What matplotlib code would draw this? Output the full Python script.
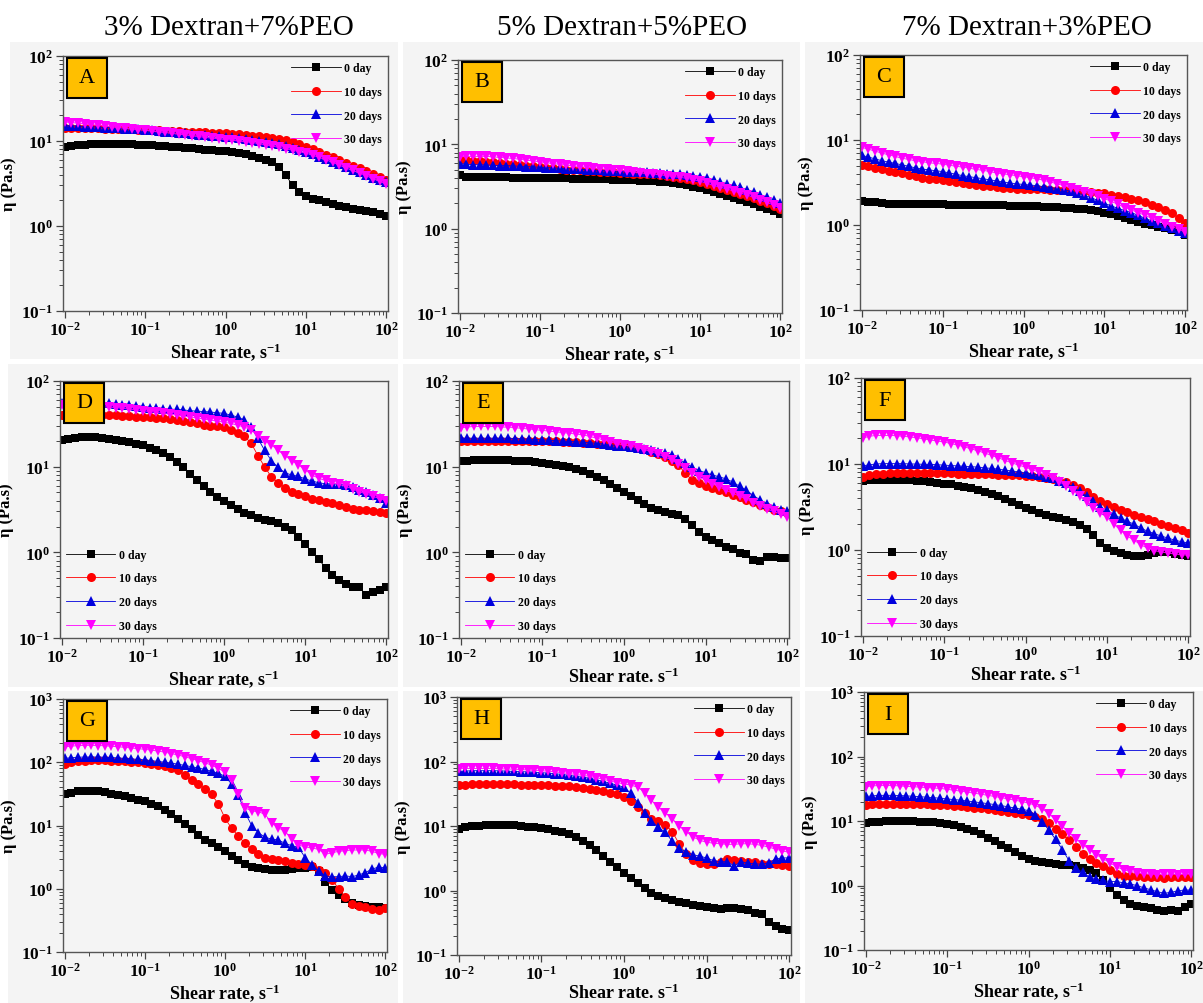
import math
import matplotlib
matplotlib.use("Agg")
import matplotlib.pyplot as plt
from matplotlib.patches import Rectangle
from matplotlib.ticker import FuncFormatter, LogLocator

plt.rcParams['font.family'] = ['Liberation Serif', 'DejaVu Serif']
plt.rcParams['mathtext.fontset'] = 'custom'
plt.rcParams['mathtext.rm'] = 'Liberation Serif:bold'
plt.rcParams['mathtext.bf'] = 'Liberation Serif:bold'
plt.rcParams['mathtext.it'] = 'Liberation Serif:bold:italic'

# shear rate grid, 12 points per decade (s^-1)
SHEAR_RATE = [0.01, 0.0121, 0.0147, 0.0178, 0.0215, 0.0261, 0.0316, 0.0383, 0.0464, 0.0562, 0.0681, 0.0825,
              0.1, 0.121, 0.147, 0.178, 0.215, 0.261, 0.316, 0.383, 0.464, 0.562, 0.681, 0.825,
              1.0, 1.21, 1.47, 1.78, 2.15, 2.61, 3.16, 3.83, 4.64, 5.62, 6.81, 8.25,
              10.0, 12.1, 14.7, 17.8, 21.5, 26.1, 31.6, 38.3, 46.4, 56.2, 68.1, 82.5, 100.0]

DAY_LABELS = ['0 day', '10 days', '20 days', '30 days']
COLUMN_TITLES = ['3% Dextran+7%PEO', '5% Dextran+5%PEO', '7% Dextran+3%PEO']

# ---- panel A ----
A_0 = [8.6, 8.8, 8.9, 9.0, 9.1, 9.1, 9.2, 9.2, 9.2, 9.1, 9.1, 9.0,
       9.0, 8.9, 8.8, 8.7, 8.6, 8.5, 8.3, 8.2, 8.1, 7.9, 7.8, 7.7,
       7.6, 7.4, 7.2, 7.0, 6.7, 6.3, 5.9, 5.6, 4.9, 4.0, 3.0, 2.5,
       2.25, 2.1, 2.0, 1.9, 1.8, 1.72, 1.66, 1.6, 1.55, 1.5, 1.45, 1.38, 1.3]
A_10 = [14.3, 14.3, 14.3, 14.2, 14.2, 14.1, 14.0, 14.0, 13.9, 13.8, 13.7, 13.6,
        13.5, 13.4, 13.3, 13.2, 13.1, 13.0, 12.9, 12.8, 12.7, 12.6, 12.5, 12.4,
        12.3, 12.2, 12.0, 11.8, 11.6, 11.4, 11.2, 10.9, 10.6, 10.2, 9.7, 9.2,
        8.6, 8.0, 7.4, 6.9, 6.4, 5.9, 5.5, 5.1, 4.8, 4.4, 4.1, 3.8, 3.5]
A_20 = [15.2, 15.1, 15.0, 14.8, 14.7, 14.6, 14.4, 14.3, 14.1, 14.0, 13.8, 13.7,
        13.5, 13.3, 13.1, 12.9, 12.7, 12.5, 12.3, 12.1, 11.9, 11.7, 11.5, 11.3,
        11.2, 11.0, 10.8, 10.6, 10.4, 10.1, 9.8, 9.5, 9.1, 8.7, 8.3, 7.9,
        7.5, 7.0, 6.5, 6.1, 5.7, 5.3, 4.9, 4.6, 4.3, 4.0, 3.7, 3.5, 3.25]
A_30 = [16.8, 16.5, 16.2, 15.9, 15.6, 15.3, 15.0, 14.7, 14.4, 14.1, 13.8, 13.6,
        13.4, 13.1, 12.8, 12.6, 12.3, 12.0, 11.8, 11.5, 11.3, 11.0, 10.8, 10.6,
        10.4, 10.2, 10.0, 9.8, 9.6, 9.3, 9.0, 8.7, 8.4, 8.1, 7.8, 7.5,
        7.2, 6.8, 6.4, 6.0, 5.6, 5.2, 4.8, 4.5, 4.2, 3.9, 3.6, 3.35, 3.1]

# ---- panel B ----
B_0 = [4.3, 4.15, 4.1, 4.1, 4.1, 4.05, 4.05, 4.05, 4.0, 4.0, 4.0, 4.0,
       4.0, 4.0, 3.95, 3.95, 3.95, 3.9, 3.9, 3.9, 3.85, 3.85, 3.85, 3.8,
       3.8, 3.75, 3.75, 3.7, 3.7, 3.65, 3.6, 3.55, 3.45, 3.35, 3.25, 3.1,
       3.0, 2.85, 2.7, 2.6, 2.45, 2.3, 2.2, 2.05, 1.95, 1.8, 1.7, 1.6, 1.5]
B_10 = [6.6, 6.5, 6.4, 6.3, 6.2, 6.1, 6.0, 5.9, 5.8, 5.7, 5.6, 5.5,
        5.4, 5.3, 5.2, 5.1, 5.0, 4.95, 4.9, 4.85, 4.8, 4.75, 4.7, 4.65,
        4.6, 4.55, 4.5, 4.5, 4.45, 4.4, 4.3, 4.2, 4.1, 4.0, 3.9, 3.75,
        3.6, 3.4, 3.2, 3.05, 2.9, 2.75, 2.6, 2.45, 2.3, 2.15, 2.0, 1.85, 1.7]
B_20 = [5.9, 5.8, 5.75, 5.7, 5.7, 5.65, 5.6, 5.6, 5.55, 5.5, 5.45, 5.4,
        5.35, 5.3, 5.25, 5.2, 5.15, 5.1, 5.05, 5.0, 4.95, 4.9, 4.85, 4.8,
        4.8, 4.75, 4.7, 4.7, 4.65, 4.6, 4.55, 4.5, 4.45, 4.4, 4.3, 4.2,
        4.1, 3.95, 3.8, 3.6, 3.4, 3.25, 3.1, 2.9, 2.7, 2.5, 2.35, 2.2, 2.0]
B_30 = [7.1, 7.2, 7.2, 7.2, 7.2, 7.1, 7.0, 6.9, 6.8, 6.65, 6.5, 6.35,
        6.2, 6.05, 5.9, 5.8, 5.65, 5.55, 5.45, 5.35, 5.25, 5.15, 5.05, 4.95,
        4.9, 4.8, 4.7, 4.6, 4.5, 4.45, 4.35, 4.25, 4.15, 4.05, 3.95, 3.8,
        3.65, 3.45, 3.25, 3.1, 2.95, 2.8, 2.65, 2.5, 2.35, 2.2, 2.05, 1.9, 1.75]

# ---- panel C ----
C_0 = [1.92, 1.88, 1.84, 1.8, 1.78, 1.77, 1.76, 1.76, 1.75, 1.75, 1.75, 1.75,
       1.75, 1.74, 1.74, 1.73, 1.73, 1.72, 1.72, 1.71, 1.7, 1.7, 1.69, 1.68,
       1.68, 1.67, 1.66, 1.65, 1.64, 1.62, 1.6, 1.58, 1.56, 1.54, 1.5, 1.46,
       1.4, 1.33, 1.26, 1.2, 1.14, 1.08, 1.03, 0.99, 0.96, 0.92, 0.87, 0.82, 0.76]
C_10 = [5.1, 4.9, 4.7, 4.5, 4.35, 4.2, 4.05, 3.9, 3.75, 3.6, 3.5, 3.45,
        3.4, 3.3, 3.2, 3.1, 3.0, 2.95, 2.9, 2.85, 2.8, 2.75, 2.7, 2.68,
        2.65, 2.64, 2.63, 2.62, 2.61, 2.6, 2.58, 2.55, 2.52, 2.48, 2.44, 2.4,
        2.35, 2.28, 2.2, 2.12, 2.04, 1.95, 1.85, 1.74, 1.62, 1.5, 1.37, 1.22, 1.07]
C_20 = [6.6, 6.3, 6.0, 5.7, 5.5, 5.3, 5.1, 4.9, 4.7, 4.55, 4.45, 4.35,
        4.25, 4.1, 3.95, 3.8, 3.7, 3.6, 3.5, 3.4, 3.3, 3.2, 3.12, 3.05,
        3.0, 2.95, 2.9, 2.82, 2.75, 2.68, 2.6, 2.5, 2.38, 2.25, 2.1, 1.95,
        1.8, 1.68, 1.57, 1.48, 1.4, 1.3, 1.2, 1.12, 1.05, 0.98, 0.91, 0.85, 0.8]
C_30 = [8.2, 7.8, 7.4, 7.0, 6.7, 6.4, 6.1, 5.9, 5.7, 5.55, 5.4, 5.3,
        5.2, 5.05, 4.9, 4.8, 4.65, 4.5, 4.4, 4.25, 4.1, 4.0, 3.9, 3.8,
        3.7, 3.6, 3.5, 3.35, 3.2, 3.05, 2.9, 2.75, 2.6, 2.45, 2.3, 2.2,
        2.05, 1.9, 1.75, 1.6, 1.5, 1.4, 1.3, 1.2, 1.12, 1.04, 0.96, 0.89, 0.82]

# ---- panel D ----
D_0 = [20.5, 21.0, 21.6, 22.0, 22.0, 22.0, 21.7, 21.3, 20.6, 20.0, 19.2, 18.5,
       17.7, 16.7, 15.5, 14.3, 12.8, 11.3, 9.8, 8.3, 7.0, 5.9, 5.0, 4.4,
       4.0, 3.6, 3.2, 2.9, 2.7, 2.55, 2.4, 2.3, 2.2, 2.0, 1.8, 1.5,
       1.25, 1.0, 0.83, 0.66, 0.55, 0.48, 0.43, 0.39, 0.39, 0.32, 0.34, 0.36, 0.39]
D_10 = [40, 40, 40, 40.5, 40.5, 40.5, 40.5, 40, 40, 39.5, 39, 38.5,
        38, 37.5, 37, 36.5, 36, 35, 34, 33, 32, 31, 30, 29.5,
        29, 27, 25, 22.5, 19, 13.5, 10, 7.6, 6.5, 5.7, 5.1, 4.8,
        4.5, 4.25, 4.05, 3.9, 3.75, 3.55, 3.35, 3.2, 3.15, 3.1, 3.05, 2.95, 2.85]
D_20 = [56, 57, 57, 57, 56.5, 56, 55.5, 55, 54, 53, 52, 51,
        50, 49, 48, 47.5, 47, 46.5, 46, 45, 44.5, 44, 43.5, 42.5,
        42, 40, 38, 35, 29, 21.5, 15.5, 11.8, 9.8, 8.5, 8.0, 7.7,
        7.2, 6.8, 6.5, 6.3, 6.3, 6.2, 6.1, 5.8, 5.4, 5.1, 4.7, 4.3, 3.8]
D_30 = [52, 52, 52, 51.5, 51, 50.5, 50, 49.5, 49, 48, 47, 46,
        45, 44, 43, 42, 41, 40, 39, 38, 37, 36, 35, 34,
        33, 32, 30.5, 29, 27, 23, 20, 18, 15.5, 13.5, 11.8, 10.5,
        9.2, 8.0, 7.3, 6.9, 6.5, 6.2, 5.9, 5.5, 5.1, 4.8, 4.5, 4.25, 4.0]

# ---- panel E ----
E_0 = [11.7, 11.8, 11.9, 12.0, 12.0, 12.0, 12.0, 11.9, 11.8, 11.6, 11.5, 11.3,
       11.0, 10.8, 10.5, 10.2, 9.8, 9.3, 8.8, 8.3, 7.6, 7.0, 6.3, 5.7,
       5.1, 4.6, 4.1, 3.7, 3.3, 3.1, 2.95, 2.8, 2.7, 2.45, 2.1, 1.75,
       1.5, 1.4, 1.27, 1.15, 1.08, 0.98, 0.96, 0.81, 0.80, 0.88, 0.89, 0.86, 0.85]
E_10 = [20, 20, 20, 20, 20, 20, 20, 20, 20, 20, 20, 20,
        20, 20, 19.8, 19.6, 19.4, 19.2, 19.0, 18.8, 18.6, 18.4, 18.2, 18.0,
        17.7, 17.3, 16.8, 16.0, 15.0, 14.0, 13.0, 11.8, 10.4, 8.4, 7.0, 6.5,
        6.0, 5.6, 5.3, 5.0, 4.7, 4.4, 4.1, 3.85, 3.6, 3.35, 3.15, 3.0, 2.85]
E_20 = [21.5, 21.5, 21.5, 21.5, 21.5, 21.5, 21.5, 21.5, 21.3, 21.1, 20.9, 20.7,
        20.5, 20.3, 20.1, 19.9, 19.7, 19.5, 19.3, 19.0, 18.7, 18.4, 18.0, 17.6,
        17.2, 16.8, 16.4, 16.0, 15.5, 15.0, 14.4, 13.6, 12.4, 11.0, 9.9, 9.0,
        8.5, 8.0, 7.6, 7.2, 6.6, 5.9, 5.3, 4.6, 4.1, 3.7, 3.35, 3.1, 3.0]
E_30 = [28.5, 29, 29.5, 29.5, 29.5, 29.5, 29, 29, 28.5, 28, 27.5, 27,
        26.5, 26, 25.5, 25, 24.5, 24, 23.5, 22.5, 21.5, 20.5, 19.5, 18.5,
        18, 17.3, 16.6, 15.8, 15, 14, 13, 12, 10.8, 9.6, 8.5, 7.6,
        6.9, 6.3, 5.8, 5.3, 4.9, 4.5, 4.2, 3.8, 3.5, 3.2, 3.0, 2.8, 2.6]

# ---- panel F ----
F_0 = [6.4, 6.6, 6.6, 6.6, 6.6, 6.6, 6.6, 6.5, 6.4, 6.3, 6.2, 6.0,
       5.9, 5.8, 5.6, 5.45, 5.2, 5.0, 4.75, 4.45, 4.2, 3.95, 3.6, 3.3,
       3.1, 2.9, 2.7, 2.55, 2.45, 2.35, 2.22, 2.1, 1.95, 1.75, 1.5, 1.2,
       1.06, 0.97, 0.92, 0.88, 0.86, 0.86, 0.87, 0.93, 0.95, 0.94, 0.91, 0.88, 0.86]
F_10 = [7.1, 7.4, 7.6, 7.7, 7.8, 7.8, 7.8, 7.8, 7.8, 7.8, 7.8, 7.8,
        7.8, 7.8, 7.7, 7.7, 7.7, 7.7, 7.6, 7.6, 7.5, 7.5, 7.4, 7.4,
        7.3, 7.2, 7.1, 6.9, 6.7, 6.4, 6.15, 5.7, 5.2, 4.7, 4.1, 3.7,
        3.45, 3.2, 2.95, 2.75, 2.55, 2.4, 2.3, 2.15, 2.0, 1.92, 1.82, 1.72, 1.58]
F_20 = [9.5, 9.8, 10.0, 10.1, 10.1, 10.1, 10.1, 10.0, 10.0, 9.9, 9.9, 9.8,
        9.7, 9.6, 9.5, 9.4, 9.3, 9.2, 9.0, 8.9, 8.7, 8.5, 8.3, 8.1,
        7.9, 7.7, 7.4, 7.1, 6.8, 6.4, 6.0, 5.4, 4.8, 4.2, 3.7, 3.2,
        2.9, 2.6, 2.35, 2.15, 2.0, 1.8, 1.65, 1.55, 1.45, 1.38, 1.3, 1.25, 1.2]
F_30 = [20, 21, 21.5, 21.5, 21.5, 21.3, 21, 20.6, 20.2, 19.6, 19, 18.5,
        18, 17.3, 16.6, 15.8, 15, 14.2, 13.4, 12.6, 11.8, 11, 10.3, 9.7,
        9.2, 8.6, 8.0, 7.4, 6.8, 6.2, 5.6, 4.9, 4.2, 3.6, 3.1, 2.7,
        2.4, 2.0, 1.7, 1.45, 1.3, 1.15, 1.05, 0.98, 0.95, 0.92, 0.9, 0.88, 0.87]

# ---- panel G ----
G_0 = [31, 33, 34.5, 35, 35, 34.5, 33.5, 32, 30.5, 29, 27, 25.5,
       24, 22, 20, 17.5, 15, 12.5, 10.5, 8.7, 7.2, 6.0, 5.2, 4.5,
       3.9, 3.3, 2.8, 2.45, 2.2, 2.1, 2.05, 2.0, 2.0, 2.0, 2.05, 2.1,
       2.15, 2.2, 1.9, 1.3, 0.95, 0.8, 0.68, 0.6, 0.56, 0.54, 0.52, 0.51, 0.5]
G_10 = [95, 100, 104, 106, 107, 107, 107, 106, 105, 104, 102, 100,
        98, 95, 92, 88, 82, 75, 62, 52, 45, 38, 31, 22,
        13, 9.0, 6.8, 5.2, 4.2, 3.5, 3.1, 2.95, 2.8, 2.7, 2.6, 2.5,
        2.4, 2.3, 2.0, 1.75, 1.4, 1.0, 0.74, 0.57, 0.53, 0.52, 0.47, 0.46, 0.49]
G_20 = [115, 118, 120, 121, 121, 121, 120, 119, 117, 115, 113, 111,
        109, 106, 103, 100, 97, 93, 89, 85, 81, 77, 72, 67,
        60, 45, 30, 16, 10, 7.7, 6.5, 6.1, 5.9, 5.2, 4.8, 4.5,
        3.1, 2.4, 1.9, 1.6, 1.55, 1.55, 1.6, 1.55, 1.65, 1.8, 2.05, 2.2, 2.15]
G_30 = [175, 180, 183, 185, 185, 184, 182, 179, 176, 172, 168, 164,
        160, 155, 150, 144, 137, 130, 122, 114, 106, 98, 90, 80,
        70, 52, 32, 19, 17, 16.5, 15, 11, 9.2, 8.0, 6.2, 4.9,
        4.6, 4.4, 4.2, 3.5, 3.7, 3.9, 4.0, 4.1, 4.1, 4.1, 3.9, 3.6, 3.5]

# ---- panel H ----
H_0 = [8.9, 9.5, 9.9, 10.1, 10.3, 10.4, 10.4, 10.3, 10.2, 10.0, 9.8, 9.6,
       9.3, 8.9, 8.5, 8.0, 7.4, 6.7, 5.9, 5.0, 4.2, 3.4, 2.8, 2.3,
       1.9, 1.55, 1.3, 1.1, 0.93, 0.82, 0.76, 0.71, 0.67, 0.63, 0.6, 0.57,
       0.55, 0.53, 0.52, 0.53, 0.53, 0.52, 0.49, 0.45, 0.43, 0.33, 0.28, 0.25, 0.24]
H_10 = [43, 43.5, 44, 44, 44, 44, 44, 44, 44, 43.5, 43.5, 43,
        43, 42.5, 42, 41.5, 41, 40, 39, 38, 36.5, 35, 33, 31,
        28, 24, 20, 16, 13, 12, 10.5, 8.2, 5.3, 3.7, 3.0, 2.7,
        2.55, 2.55, 2.8, 3.1, 3.0, 2.9, 2.8, 2.75, 2.6, 2.55, 2.55, 2.5, 2.4]
H_20 = [70, 71, 72, 72, 72, 72, 71.5, 71, 70, 69.5, 69, 68,
        67, 66, 64.5, 63, 61, 59, 57, 55, 52, 49, 46, 43,
        40, 32, 23, 16, 12, 9.5, 8.0, 5.8, 4.5, 4.0, 3.6, 3.4,
        3.2, 2.9, 2.8, 2.8, 2.4, 2.8, 2.65, 2.6, 2.55, 2.7, 3.1, 3.2, 3.2]
H_30 = [77, 78, 78, 78, 78, 78, 77, 76.5, 76, 75, 74, 73,
        72, 70.5, 69, 67, 65, 63, 61, 59, 56, 53, 50, 47,
        45, 43, 40, 33, 25, 19.5, 16, 13, 10, 8.2, 6.8, 6.0,
        5.6, 5.4, 5.3, 5.2, 5.2, 5.3, 5.3, 5.2, 5.0, 4.7, 4.4, 4.1, 3.9]

# ---- panel I ----
I_0 = [9.2, 9.5, 9.8, 10, 10, 10, 10, 9.9, 9.8, 9.7, 9.5, 9.3,
       9.0, 8.6, 8.1, 7.5, 6.9, 6.2, 5.5, 4.9, 4.3, 3.8, 3.3, 2.9,
       2.6, 2.4, 2.3, 2.2, 2.15, 2.1, 2.05, 2.0, 1.9, 1.75, 1.55, 1.2,
       0.93, 0.72, 0.6, 0.52, 0.48, 0.46, 0.44, 0.41, 0.4, 0.42, 0.4, 0.47, 0.52]
I_10 = [18, 18.3, 18.5, 18.5, 18.5, 18.5, 18.5, 18.4, 18.3, 18.2, 18, 17.8,
        17.5, 17.2, 16.9, 16.5, 16.1, 15.7, 15.3, 14.9, 14.4, 13.9, 13.4, 13.0,
        12.5, 11.7, 10.6, 9.2, 7.6, 6.2, 5.0, 4.0, 3.1, 2.6, 2.25, 2.0,
        1.75, 1.5, 1.42, 1.4, 1.38, 1.37, 1.35, 1.35, 1.3, 1.35, 1.35, 1.37, 1.37]
I_20 = [24, 24.5, 25, 25, 25, 24.8, 24.5, 24.2, 23.8, 23.4, 23, 22.5,
        22, 21.5, 21, 20.4, 19.8, 19.2, 18.6, 18, 17.3, 16.6, 15.9, 15.2,
        14.5, 12.5, 9.8, 7.2, 5.2, 3.6, 2.4, 1.85, 1.6, 1.35, 1.27, 1.2,
        1.15, 1.15, 1.1, 1.05, 1.0, 0.92, 0.86, 0.8, 0.76, 0.78, 0.83, 0.85, 0.85]
I_30 = [34, 35, 35.5, 35.5, 35.5, 35, 34.5, 34, 33.5, 33, 32.5, 32,
        31, 30, 29, 28, 27, 26, 25, 24, 23, 22, 21, 20,
        19, 17.5, 15.5, 13, 10.5, 8.3, 6.6, 5.3, 4.3, 3.6, 3.0, 2.6,
        2.25, 1.95, 1.75, 1.65, 1.58, 1.52, 1.5, 1.48, 1.5, 1.5, 1.48, 1.5, 1.5]

PANELS = [
    ('A', [A_0, A_10, A_20, A_30]), ('B', [B_0, B_10, B_20, B_30]), ('C', [C_0, C_10, C_20, C_30]),
    ('D', [D_0, D_10, D_20, D_30]), ('E', [E_0, E_10, E_20, E_30]), ('F', [F_0, F_10, F_20, F_30]),
    ('G', [G_0, G_10, G_20, G_30]), ('H', [H_0, H_10, H_20, H_30]), ('I', [I_0, I_10, I_20, I_30]),
]

W, H = 1203, 1004
# axes boxes in pixels: left, right, top, bottom
AX_PX = {
    'A': (63, 388, 57, 312), 'B': (458, 782, 61, 314), 'C': (860, 1187, 56, 311),
    'D': (60, 388, 382, 639), 'E': (459, 789, 382, 639), 'F': (861, 1190, 379, 637),
    'G': (63, 387, 700, 953), 'H': (457, 791, 698, 956), 'I': (864, 1193, 693, 951),
}
# gray panel backgrounds (pixels): x0, x1, y0, y1
BG_PX = [(10, 398, 43, 360), (403, 800, 43, 360), (805, 1203, 43, 360),
         (8, 398, 365, 688), (403, 800, 365, 688), (805, 1203, 365, 688),
         (8, 398, 692, 1004), (403, 800, 692, 1004), (805, 1203, 692, 1004)]

COLORS = ['#000000', '#ff0000', '#0000dd', '#ff00ff']
MARKERS = ['s', 'o', '^', 'v']
MSIZES = [5.5, 6.5, 6.5, 6.5]
LEGEND_LOWER = ['D', 'E', 'F']
XLABEL_DOT = ['E', 'F', 'H']


def decade_label(v, pos):
    return r'$\mathbf{10^{%d}}$' % int(round(math.log10(v)))


for d in PANELS:
    for s in d[1]:
        assert len(s) == len(SHEAR_RATE), (d[0], len(s))

fig = plt.figure(figsize=(W / 100, H / 100), dpi=100)

for x0, x1, y0, y1 in BG_PX:
    fig.add_artist(Rectangle((x0 / W, 1 - y1 / H), (x1 - x0) / W, (y1 - y0) / H,
                             transform=fig.transFigure, facecolor='#f4f4f4',
                             edgecolor='none', zorder=0))

for name, series in PANELS:
    l, r, t, b = AX_PX[name]
    ax = fig.add_axes([l / W, 1 - b / H, (r - l) / W, (b - t) / H])
    ax.set_facecolor('none')

    for k in range(4):
        ax.plot(SHEAR_RATE, series[k], color=COLORS[k], lw=0.6, marker=MARKERS[k],
                markersize=MSIZES[k], markeredgewidth=0, label=DAY_LABELS[k])

    ax.set_xscale('log')
    ax.set_yscale('log')
    ax.set_xlim(10 ** -2.02, 10 ** 2.02)
    ax.set_ylim(0.1, 1000 if name in 'GHI' else 100)
    ax.xaxis.set_major_locator(LogLocator(base=10, numticks=10))
    ax.xaxis.set_major_formatter(FuncFormatter(decade_label))
    ax.yaxis.set_major_formatter(FuncFormatter(decade_label))

    for sp in ax.spines.values():
        sp.set_color('#555555')
        sp.set_linewidth(1.0)
    ax.tick_params(which='both', direction='out', top=False, right=False,
                   color='#444444', labelsize=12.5)
    ax.tick_params(which='major', length=5, width=0.9, pad=2)
    ax.tick_params(which='minor', length=3, width=0.7)

    sep = '.' if name in XLABEL_DOT else ','
    ax.set_xlabel('Shear rate' + sep + ' s$^{-1}$', fontsize=13, fontweight='bold',
                  labelpad=0 if name == 'H' else 1)
    ax.set_ylabel('\u03b7 (Pa.s)', fontsize=12, fontweight='bold', labelpad=3)

    # letter tag
    bw, bh = 40 / (r - l), 40 / (b - t)
    bx, by = 4 / (r - l), 1 - 42 / (b - t)
    ax.add_patch(Rectangle((bx, by), bw, bh, transform=ax.transAxes,
                           facecolor='#ffbf00', edgecolor='black', lw=1.5, zorder=6))
    ax.text(bx + bw / 2, by + bh / 2, name, transform=ax.transAxes, ha='center',
            va='center', fontsize=16, fontweight='normal', zorder=7)

    if name in LEGEND_LOWER:
        loc = 'lower left'
    else:
        loc = 'upper right'
    ax.legend(loc=loc, frameon=False, prop={'size': 8.5, 'weight': 'bold'},
              handlelength=4.2, handletextpad=0.3, labelspacing=1.0,
              borderaxespad=0.3, borderpad=0.2, numpoints=1)

for i, title in enumerate(COLUMN_TITLES):
    cx = [229, 622, 1027][i]
    fig.text(cx / W, 1 - 28 / H, title, ha='center', va='center',
             fontsize=21, fontweight='normal')

fig.savefig('out.png', dpi=100)
